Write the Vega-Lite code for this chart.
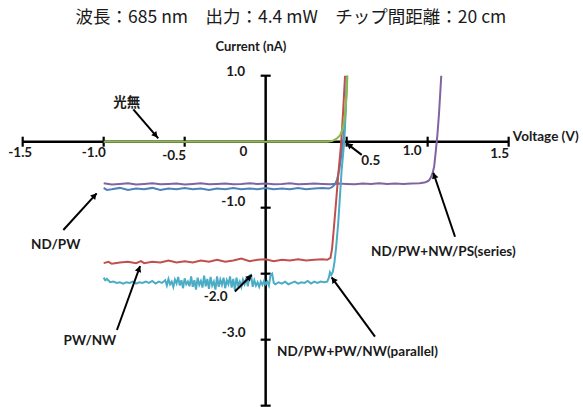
{
  "$schema": "https://vega.github.io/schema/vega-lite/v6.json",
  "width": 583,
  "height": 407,
  "padding": 0,
  "autosize": {"type": "fit", "contains": "padding"},
  "background": "white",
  "config": {"view": {"stroke": null}},
  "datasets": {
    "axes": [
      {"v": -1.5, "i": 0, "v2": 1.5, "i2": 0},
      {"v": 0, "i": -4.0, "v2": 0, "i2": 1.0}
    ],
    "xticks": [{"v": -1.5, "i": 0}, {"v": -1.0, "i": 0}, {"v": -0.5, "i": 0}, {"v": 0.5, "i": 0}, {"v": 1.0, "i": 0}, {"v": 1.5, "i": 0}],
    "yticks": [{"v": 0, "i": 1.0}, {"v": 0, "i": -1.0}, {"v": 0, "i": -2.0}, {"v": 0, "i": -3.0}, {"v": 0, "i": -4.0}],
    "curves": [
      {"s": "ND/PW+NW/PS(series)", "v": -1.0, "i": -0.63}, {"s": "ND/PW+NW/PS(series)", "v": -0.95, "i": -0.65}, {"s": "ND/PW+NW/PS(series)", "v": -0.9, "i": -0.64}, {"s": "ND/PW+NW/PS(series)", "v": -0.85, "i": -0.63}, {"s": "ND/PW+NW/PS(series)", "v": -0.8, "i": -0.65}, {"s": "ND/PW+NW/PS(series)", "v": -0.75, "i": -0.64}, {"s": "ND/PW+NW/PS(series)", "v": -0.7, "i": -0.63}, {"s": "ND/PW+NW/PS(series)", "v": -0.65, "i": -0.645}, {"s": "ND/PW+NW/PS(series)", "v": -0.6, "i": -0.64}, {"s": "ND/PW+NW/PS(series)", "v": -0.55, "i": -0.635}, {"s": "ND/PW+NW/PS(series)", "v": -0.5, "i": -0.65}, {"s": "ND/PW+NW/PS(series)", "v": -0.45, "i": -0.64}, {"s": "ND/PW+NW/PS(series)", "v": -0.4, "i": -0.63}, {"s": "ND/PW+NW/PS(series)", "v": -0.35, "i": -0.645}, {"s": "ND/PW+NW/PS(series)", "v": -0.3, "i": -0.64}, {"s": "ND/PW+NW/PS(series)", "v": -0.25, "i": -0.635}, {"s": "ND/PW+NW/PS(series)", "v": -0.2, "i": -0.645}, {"s": "ND/PW+NW/PS(series)", "v": -0.15, "i": -0.64}, {"s": "ND/PW+NW/PS(series)", "v": -0.1, "i": -0.63}, {"s": "ND/PW+NW/PS(series)", "v": -0.05, "i": -0.64}, {"s": "ND/PW+NW/PS(series)", "v": 0.0, "i": -0.635}, {"s": "ND/PW+NW/PS(series)", "v": 0.05, "i": -0.645}, {"s": "ND/PW+NW/PS(series)", "v": 0.1, "i": -0.64}, {"s": "ND/PW+NW/PS(series)", "v": 0.15, "i": -0.63}, {"s": "ND/PW+NW/PS(series)", "v": 0.2, "i": -0.645}, {"s": "ND/PW+NW/PS(series)", "v": 0.25, "i": -0.64}, {"s": "ND/PW+NW/PS(series)", "v": 0.3, "i": -0.635}, {"s": "ND/PW+NW/PS(series)", "v": 0.35, "i": -0.64}, {"s": "ND/PW+NW/PS(series)", "v": 0.4, "i": -0.645}, {"s": "ND/PW+NW/PS(series)", "v": 0.45, "i": -0.635}, {"s": "ND/PW+NW/PS(series)", "v": 0.5, "i": -0.64}, {"s": "ND/PW+NW/PS(series)", "v": 0.55, "i": -0.645}, {"s": "ND/PW+NW/PS(series)", "v": 0.6, "i": -0.635}, {"s": "ND/PW+NW/PS(series)", "v": 0.65, "i": -0.64}, {"s": "ND/PW+NW/PS(series)", "v": 0.7, "i": -0.63}, {"s": "ND/PW+NW/PS(series)", "v": 0.75, "i": -0.64}, {"s": "ND/PW+NW/PS(series)", "v": 0.8, "i": -0.635}, {"s": "ND/PW+NW/PS(series)", "v": 0.85, "i": -0.64}, {"s": "ND/PW+NW/PS(series)", "v": 0.9, "i": -0.635}, {"s": "ND/PW+NW/PS(series)", "v": 0.95, "i": -0.63}, {"s": "ND/PW+NW/PS(series)", "v": 0.98, "i": -0.62}, {"s": "ND/PW+NW/PS(series)", "v": 1.0, "i": -0.6}, {"s": "ND/PW+NW/PS(series)", "v": 1.01, "i": -0.58}, {"s": "ND/PW+NW/PS(series)", "v": 1.02, "i": -0.54}, {"s": "ND/PW+NW/PS(series)", "v": 1.03, "i": -0.48}, {"s": "ND/PW+NW/PS(series)", "v": 1.04, "i": -0.38}, {"s": "ND/PW+NW/PS(series)", "v": 1.05, "i": -0.15}, {"s": "ND/PW+NW/PS(series)", "v": 1.06, "i": 0.1}, {"s": "ND/PW+NW/PS(series)", "v": 1.07, "i": 0.42}, {"s": "ND/PW+NW/PS(series)", "v": 1.078, "i": 0.75}, {"s": "ND/PW+NW/PS(series)", "v": 1.084, "i": 1.0},

      {"s": "ND/PW", "v": -1.0, "i": -0.70}, {"s": "ND/PW", "v": -0.98, "i": -0.73}, {"s": "ND/PW", "v": -0.95, "i": -0.72}, {"s": "ND/PW", "v": -0.9, "i": -0.70}, {"s": "ND/PW", "v": -0.85, "i": -0.73}, {"s": "ND/PW", "v": -0.8, "i": -0.71}, {"s": "ND/PW", "v": -0.75, "i": -0.72}, {"s": "ND/PW", "v": -0.7, "i": -0.70}, {"s": "ND/PW", "v": -0.65, "i": -0.73}, {"s": "ND/PW", "v": -0.6, "i": -0.71}, {"s": "ND/PW", "v": -0.55, "i": -0.72}, {"s": "ND/PW", "v": -0.5, "i": -0.70}, {"s": "ND/PW", "v": -0.45, "i": -0.72}, {"s": "ND/PW", "v": -0.4, "i": -0.71}, {"s": "ND/PW", "v": -0.35, "i": -0.73}, {"s": "ND/PW", "v": -0.3, "i": -0.71}, {"s": "ND/PW", "v": -0.25, "i": -0.72}, {"s": "ND/PW", "v": -0.2, "i": -0.70}, {"s": "ND/PW", "v": -0.15, "i": -0.72}, {"s": "ND/PW", "v": -0.1, "i": -0.71}, {"s": "ND/PW", "v": -0.05, "i": -0.72}, {"s": "ND/PW", "v": 0.0, "i": -0.70}, {"s": "ND/PW", "v": 0.05, "i": -0.72}, {"s": "ND/PW", "v": 0.1, "i": -0.71}, {"s": "ND/PW", "v": 0.15, "i": -0.72}, {"s": "ND/PW", "v": 0.2, "i": -0.70}, {"s": "ND/PW", "v": 0.25, "i": -0.72}, {"s": "ND/PW", "v": 0.3, "i": -0.71}, {"s": "ND/PW", "v": 0.35, "i": -0.70}, {"s": "ND/PW", "v": 0.39, "i": -0.71}, {"s": "ND/PW", "v": 0.41, "i": -0.69}, {"s": "ND/PW", "v": 0.43, "i": -0.64}, {"s": "ND/PW", "v": 0.44, "i": -0.58}, {"s": "ND/PW", "v": 0.455, "i": -0.42}, {"s": "ND/PW", "v": 0.465, "i": -0.25}, {"s": "ND/PW", "v": 0.475, "i": -0.05}, {"s": "ND/PW", "v": 0.482, "i": 0.08}, {"s": "ND/PW", "v": 0.49, "i": 0.35}, {"s": "ND/PW", "v": 0.497, "i": 0.7}, {"s": "ND/PW", "v": 0.502, "i": 1.0},

      {"s": "PW/NW", "v": -1.0, "i": -1.84}, {"s": "PW/NW", "v": -0.97, "i": -1.82}, {"s": "PW/NW", "v": -0.95, "i": -1.85}, {"s": "PW/NW", "v": -0.9, "i": -1.83}, {"s": "PW/NW", "v": -0.85, "i": -1.82}, {"s": "PW/NW", "v": -0.8, "i": -1.84}, {"s": "PW/NW", "v": -0.77, "i": -1.81}, {"s": "PW/NW", "v": -0.75, "i": -1.84}, {"s": "PW/NW", "v": -0.7, "i": -1.82}, {"s": "PW/NW", "v": -0.65, "i": -1.83}, {"s": "PW/NW", "v": -0.6, "i": -1.80}, {"s": "PW/NW", "v": -0.55, "i": -1.83}, {"s": "PW/NW", "v": -0.5, "i": -1.81}, {"s": "PW/NW", "v": -0.45, "i": -1.83}, {"s": "PW/NW", "v": -0.4, "i": -1.80}, {"s": "PW/NW", "v": -0.35, "i": -1.82}, {"s": "PW/NW", "v": -0.3, "i": -1.79}, {"s": "PW/NW", "v": -0.25, "i": -1.82}, {"s": "PW/NW", "v": -0.2, "i": -1.80}, {"s": "PW/NW", "v": -0.15, "i": -1.77}, {"s": "PW/NW", "v": -0.1, "i": -1.81}, {"s": "PW/NW", "v": -0.05, "i": -1.79}, {"s": "PW/NW", "v": 0.0, "i": -1.78}, {"s": "PW/NW", "v": 0.05, "i": -1.81}, {"s": "PW/NW", "v": 0.1, "i": -1.79}, {"s": "PW/NW", "v": 0.15, "i": -1.80}, {"s": "PW/NW", "v": 0.2, "i": -1.78}, {"s": "PW/NW", "v": 0.25, "i": -1.80}, {"s": "PW/NW", "v": 0.3, "i": -1.79}, {"s": "PW/NW", "v": 0.35, "i": -1.78}, {"s": "PW/NW", "v": 0.38, "i": -1.79}, {"s": "PW/NW", "v": 0.40, "i": -1.76}, {"s": "PW/NW", "v": 0.41, "i": -1.62}, {"s": "PW/NW", "v": 0.42, "i": -1.34}, {"s": "PW/NW", "v": 0.434, "i": -0.93}, {"s": "PW/NW", "v": 0.45, "i": -0.45}, {"s": "PW/NW", "v": 0.465, "i": -0.05}, {"s": "PW/NW", "v": 0.478, "i": 0.45}, {"s": "PW/NW", "v": 0.49, "i": 1.0},

      {"s": "ND/PW+PW/NW(parallel)", "v": -1.0, "i": -2.06}, {"s": "ND/PW+PW/NW(parallel)", "v": -0.99, "i": -2.10}, {"s": "ND/PW+PW/NW(parallel)", "v": -0.98, "i": -2.08}, {"s": "ND/PW+PW/NW(parallel)", "v": -0.96, "i": -2.13}, {"s": "ND/PW+PW/NW(parallel)", "v": -0.94, "i": -2.12}, {"s": "ND/PW+PW/NW(parallel)", "v": -0.92, "i": -2.14}, {"s": "ND/PW+PW/NW(parallel)", "v": -0.9, "i": -2.13}, {"s": "ND/PW+PW/NW(parallel)", "v": -0.88, "i": -2.15}, {"s": "ND/PW+PW/NW(parallel)", "v": -0.86, "i": -2.13}, {"s": "ND/PW+PW/NW(parallel)", "v": -0.84, "i": -2.14}, {"s": "ND/PW+PW/NW(parallel)", "v": -0.82, "i": -2.12}, {"s": "ND/PW+PW/NW(parallel)", "v": -0.8, "i": -2.15}, {"s": "ND/PW+PW/NW(parallel)", "v": -0.78, "i": -2.13}, {"s": "ND/PW+PW/NW(parallel)", "v": -0.76, "i": -2.14}, {"s": "ND/PW+PW/NW(parallel)", "v": -0.74, "i": -2.12}, {"s": "ND/PW+PW/NW(parallel)", "v": -0.72, "i": -2.14}, {"s": "ND/PW+PW/NW(parallel)", "v": -0.7, "i": -2.11}, {"s": "ND/PW+PW/NW(parallel)", "v": -0.68, "i": -2.15}, {"s": "ND/PW+PW/NW(parallel)", "v": -0.66, "i": -2.12}, {"s": "ND/PW+PW/NW(parallel)", "v": -0.64, "i": -2.14}, {"s": "ND/PW+PW/NW(parallel)", "v": -0.62, "i": -2.10}, {"s": "ND/PW+PW/NW(parallel)", "v": -0.61, "i": -2.18}, {"s": "ND/PW+PW/NW(parallel)", "v": -0.6, "i": -2.08}, {"s": "ND/PW+PW/NW(parallel)", "v": -0.59, "i": -2.16}, {"s": "ND/PW+PW/NW(parallel)", "v": -0.58, "i": -2.12}, {"s": "ND/PW+PW/NW(parallel)", "v": -0.57, "i": -2.20}, {"s": "ND/PW+PW/NW(parallel)", "v": -0.56, "i": -2.09}, {"s": "ND/PW+PW/NW(parallel)", "v": -0.55, "i": -2.15}, {"s": "ND/PW+PW/NW(parallel)", "v": -0.54, "i": -2.05}, {"s": "ND/PW+PW/NW(parallel)", "v": -0.53, "i": -2.18}, {"s": "ND/PW+PW/NW(parallel)", "v": -0.52, "i": -2.10}, {"s": "ND/PW+PW/NW(parallel)", "v": -0.51, "i": -2.22}, {"s": "ND/PW+PW/NW(parallel)", "v": -0.5, "i": -2.07}, {"s": "ND/PW+PW/NW(parallel)", "v": -0.49, "i": -2.16}, {"s": "ND/PW+PW/NW(parallel)", "v": -0.48, "i": -2.12}, {"s": "ND/PW+PW/NW(parallel)", "v": -0.47, "i": -2.19}, {"s": "ND/PW+PW/NW(parallel)", "v": -0.46, "i": -2.04}, {"s": "ND/PW+PW/NW(parallel)", "v": -0.45, "i": -2.20}, {"s": "ND/PW+PW/NW(parallel)", "v": -0.44, "i": -2.10}, {"s": "ND/PW+PW/NW(parallel)", "v": -0.43, "i": -2.24}, {"s": "ND/PW+PW/NW(parallel)", "v": -0.42, "i": -2.06}, {"s": "ND/PW+PW/NW(parallel)", "v": -0.41, "i": -2.17}, {"s": "ND/PW+PW/NW(parallel)", "v": -0.4, "i": -2.11}, {"s": "ND/PW+PW/NW(parallel)", "v": -0.39, "i": -2.21}, {"s": "ND/PW+PW/NW(parallel)", "v": -0.38, "i": -2.03}, {"s": "ND/PW+PW/NW(parallel)", "v": -0.37, "i": -2.19}, {"s": "ND/PW+PW/NW(parallel)", "v": -0.36, "i": -2.08}, {"s": "ND/PW+PW/NW(parallel)", "v": -0.35, "i": -2.23}, {"s": "ND/PW+PW/NW(parallel)", "v": -0.34, "i": -2.05}, {"s": "ND/PW+PW/NW(parallel)", "v": -0.33, "i": -2.18}, {"s": "ND/PW+PW/NW(parallel)", "v": -0.32, "i": -2.12}, {"s": "ND/PW+PW/NW(parallel)", "v": -0.31, "i": -2.24}, {"s": "ND/PW+PW/NW(parallel)", "v": -0.3, "i": -2.04}, {"s": "ND/PW+PW/NW(parallel)", "v": -0.29, "i": -2.20}, {"s": "ND/PW+PW/NW(parallel)", "v": -0.28, "i": -2.09}, {"s": "ND/PW+PW/NW(parallel)", "v": -0.27, "i": -2.17}, {"s": "ND/PW+PW/NW(parallel)", "v": -0.26, "i": -2.06}, {"s": "ND/PW+PW/NW(parallel)", "v": -0.25, "i": -2.22}, {"s": "ND/PW+PW/NW(parallel)", "v": -0.24, "i": -2.10}, {"s": "ND/PW+PW/NW(parallel)", "v": -0.23, "i": -2.16}, {"s": "ND/PW+PW/NW(parallel)", "v": -0.22, "i": -2.04}, {"s": "ND/PW+PW/NW(parallel)", "v": -0.21, "i": -2.21}, {"s": "ND/PW+PW/NW(parallel)", "v": -0.2, "i": -2.08}, {"s": "ND/PW+PW/NW(parallel)", "v": -0.19, "i": -2.25}, {"s": "ND/PW+PW/NW(parallel)", "v": -0.18, "i": -2.06}, {"s": "ND/PW+PW/NW(parallel)", "v": -0.17, "i": -2.18}, {"s": "ND/PW+PW/NW(parallel)", "v": -0.16, "i": -2.12}, {"s": "ND/PW+PW/NW(parallel)", "v": -0.15, "i": -2.20}, {"s": "ND/PW+PW/NW(parallel)", "v": -0.14, "i": -2.09}, {"s": "ND/PW+PW/NW(parallel)", "v": -0.13, "i": -2.16}, {"s": "ND/PW+PW/NW(parallel)", "v": -0.12, "i": -2.07}, {"s": "ND/PW+PW/NW(parallel)", "v": -0.11, "i": -2.19}, {"s": "ND/PW+PW/NW(parallel)", "v": -0.1, "i": -2.03}, {"s": "ND/PW+PW/NW(parallel)", "v": -0.09, "i": -2.02}, {"s": "ND/PW+PW/NW(parallel)", "v": -0.08, "i": -2.20}, {"s": "ND/PW+PW/NW(parallel)", "v": -0.07, "i": -2.10}, {"s": "ND/PW+PW/NW(parallel)", "v": -0.06, "i": -2.18}, {"s": "ND/PW+PW/NW(parallel)", "v": -0.05, "i": -2.13}, {"s": "ND/PW+PW/NW(parallel)", "v": -0.04, "i": -2.20}, {"s": "ND/PW+PW/NW(parallel)", "v": -0.03, "i": -2.12}, {"s": "ND/PW+PW/NW(parallel)", "v": -0.02, "i": -2.17}, {"s": "ND/PW+PW/NW(parallel)", "v": -0.01, "i": -2.11}, {"s": "ND/PW+PW/NW(parallel)", "v": 0.0, "i": -2.16}, {"s": "ND/PW+PW/NW(parallel)", "v": 0.01, "i": -2.12}, {"s": "ND/PW+PW/NW(parallel)", "v": 0.02, "i": -2.18}, {"s": "ND/PW+PW/NW(parallel)", "v": 0.03, "i": -2.02}, {"s": "ND/PW+PW/NW(parallel)", "v": 0.04, "i": -2.00}, {"s": "ND/PW+PW/NW(parallel)", "v": 0.05, "i": -2.14}, {"s": "ND/PW+PW/NW(parallel)", "v": 0.06, "i": -2.16}, {"s": "ND/PW+PW/NW(parallel)", "v": 0.08, "i": -2.13}, {"s": "ND/PW+PW/NW(parallel)", "v": 0.1, "i": -2.15}, {"s": "ND/PW+PW/NW(parallel)", "v": 0.12, "i": -2.12}, {"s": "ND/PW+PW/NW(parallel)", "v": 0.14, "i": -2.16}, {"s": "ND/PW+PW/NW(parallel)", "v": 0.16, "i": -2.14}, {"s": "ND/PW+PW/NW(parallel)", "v": 0.18, "i": -2.12}, {"s": "ND/PW+PW/NW(parallel)", "v": 0.2, "i": -2.15}, {"s": "ND/PW+PW/NW(parallel)", "v": 0.22, "i": -2.13}, {"s": "ND/PW+PW/NW(parallel)", "v": 0.24, "i": -2.14}, {"s": "ND/PW+PW/NW(parallel)", "v": 0.26, "i": -2.11}, {"s": "ND/PW+PW/NW(parallel)", "v": 0.28, "i": -2.15}, {"s": "ND/PW+PW/NW(parallel)", "v": 0.3, "i": -2.12}, {"s": "ND/PW+PW/NW(parallel)", "v": 0.32, "i": -2.14}, {"s": "ND/PW+PW/NW(parallel)", "v": 0.34, "i": -2.12}, {"s": "ND/PW+PW/NW(parallel)", "v": 0.36, "i": -2.13}, {"s": "ND/PW+PW/NW(parallel)", "v": 0.38, "i": -2.12}, {"s": "ND/PW+PW/NW(parallel)", "v": 0.39, "i": -2.06}, {"s": "ND/PW+PW/NW(parallel)", "v": 0.397, "i": -1.98}, {"s": "ND/PW+PW/NW(parallel)", "v": 0.405, "i": -2.02}, {"s": "ND/PW+PW/NW(parallel)", "v": 0.415, "i": -1.97}, {"s": "ND/PW+PW/NW(parallel)", "v": 0.425, "i": -1.82}, {"s": "ND/PW+PW/NW(parallel)", "v": 0.435, "i": -1.6}, {"s": "ND/PW+PW/NW(parallel)", "v": 0.448, "i": -1.23}, {"s": "ND/PW+PW/NW(parallel)", "v": 0.458, "i": -0.85}, {"s": "ND/PW+PW/NW(parallel)", "v": 0.469, "i": -0.43}, {"s": "ND/PW+PW/NW(parallel)", "v": 0.485, "i": 0.0}, {"s": "ND/PW+PW/NW(parallel)", "v": 0.495, "i": 0.5}, {"s": "ND/PW+PW/NW(parallel)", "v": 0.502, "i": 1.0},

      {"s": "光無", "v": -1.0, "i": 0.0}, {"s": "光無", "v": 0.0, "i": 0.0}, {"s": "光無", "v": 0.38, "i": 0.0}, {"s": "光無", "v": 0.41, "i": 0.01}, {"s": "光無", "v": 0.44, "i": 0.05}, {"s": "光無", "v": 0.46, "i": 0.1}, {"s": "光無", "v": 0.47, "i": 0.16}, {"s": "光無", "v": 0.48, "i": 0.26}, {"s": "光無", "v": 0.49, "i": 0.4}, {"s": "光無", "v": 0.495, "i": 0.55}, {"s": "光無", "v": 0.5, "i": 0.75}, {"s": "光無", "v": 0.505, "i": 1.0}
    ],
    "arrows": [
      {"v": -0.817, "i": 0.491, "v2": -0.663, "i2": 0.05, "hv": -0.679, "hi": 0.097, "a": 139},
      {"v": 0.593, "i": -0.2, "v2": 0.5, "i2": -0.025, "hv": 0.515, "hi": -0.052, "a": 308},
      {"v": 1.169, "i": -1.44, "v2": 1.035, "i2": -0.47, "hv": 1.041, "hi": -0.512, "a": 341},
      {"v": -1.249, "i": -1.338, "v2": -1.043, "i2": -0.782, "hv": -1.056, "hi": -0.815, "a": 42},
      {"v": -0.918, "i": -2.853, "v2": -0.775, "i2": -1.883, "hv": -0.782, "hi": -1.926, "a": 20},
      {"v": -0.19, "i": -2.27, "v2": -0.086, "i2": -2.02, "hv": -0.099, "hi": -2.052, "a": 45},
      {"v": 0.675, "i": -2.955, "v2": 0.407, "i2": -2.055, "hv": 0.418, "hi": -2.091, "a": 324}
    ],
    "labels": [
      {"t": "1.0", "v": -0.185, "i": 1.052},
      {"t": "-1.5", "v": -1.515, "i": -0.167},
      {"t": "-1.0", "v": -1.061, "i": -0.167},
      {"t": "-0.5", "v": -0.565, "i": -0.217},
      {"t": "0", "v": -0.138, "i": -0.152},
      {"t": "0.5", "v": 0.649, "i": -0.292},
      {"t": "1.0", "v": 0.904, "i": -0.136},
      {"t": "1.5", "v": 1.444, "i": -0.186},
      {"t": "Voltage (V)", "v": 1.729, "i": 0.076},
      {"t": "-1.0", "v": -0.2, "i": -0.918},
      {"t": "-2.0", "v": -0.309, "i": -2.357},
      {"t": "-3.0", "v": -0.197, "i": -2.903},
      {"t": "光無", "v": -0.858, "i": 0.586},
      {"t": "ND/PW", "v": -1.296, "i": -1.565},
      {"t": "PW/NW", "v": -1.085, "i": -3.02},
      {"t": "ND/PW+NW/PS(series)", "v": 1.097, "i": -1.667},
      {"t": "ND/PW+PW/NW(parallel)", "v": 0.567, "i": -3.18}
    ],
    "axislabels": [
      {"t": "Current (nA)", "v": -0.091, "i": 1.44}
    ],
    "titles": [
      {"t": "波長：685 nm　出力：4.4 mW　チップ間距離：20 cm", "v": 0.156, "i": 1.87}
    ]
  },
  "layer": [
    {
      "data": {"name": "axes"},
      "mark": {"type": "rule", "color": "black", "strokeWidth": 2.5},
      "encoding": {
        "x": {"field": "v", "type": "quantitative", "scale": {"domain": [-1.64, 1.959], "nice": false, "zero": false}, "axis": null},
        "y": {"field": "i", "type": "quantitative", "scale": {"domain": [-4.02, 2.147], "nice": false, "zero": false}, "axis": null},
        "x2": {"field": "v2"},
        "y2": {"field": "i2"}
      }
    },
    {
      "data": {"name": "xticks"},
      "mark": {"type": "tick", "orient": "vertical", "color": "black", "size": 10, "thickness": 2.2, "opacity": 1},
      "encoding": {
        "x": {"field": "v", "type": "quantitative"},
        "y": {"field": "i", "type": "quantitative"}
      }
    },
    {
      "data": {"name": "yticks"},
      "mark": {"type": "tick", "orient": "horizontal", "color": "black", "size": 10, "thickness": 2.2, "opacity": 1},
      "encoding": {
        "x": {"field": "v", "type": "quantitative"},
        "y": {"field": "i", "type": "quantitative"}
      }
    },
    {
      "data": {"name": "curves"},
      "mark": {"type": "line", "strokeWidth": 2, "interpolate": "linear"},
      "encoding": {
        "x": {"field": "v", "type": "quantitative"},
        "y": {"field": "i", "type": "quantitative"},
        "color": {
          "field": "s", "type": "nominal", "legend": null,
          "scale": {
            "domain": ["ND/PW+NW/PS(series)", "ND/PW", "PW/NW", "ND/PW+PW/NW(parallel)", "光無"],
            "range": ["#8064A2", "#4F81BD", "#C0504D", "#4BACC6", "#8DBB4A"]
          }
        }
      }
    },
    {
      "data": {"name": "arrows"},
      "mark": {"type": "rule", "color": "black", "strokeWidth": 2},
      "encoding": {
        "x": {"field": "v", "type": "quantitative"},
        "y": {"field": "i", "type": "quantitative"},
        "x2": {"field": "v2"},
        "y2": {"field": "i2"}
      }
    },
    {
      "data": {"name": "arrows"},
      "mark": {"type": "point", "shape": "triangle-up", "filled": true, "color": "black", "size": 45, "opacity": 1},
      "encoding": {
        "x": {"field": "hv", "type": "quantitative"},
        "y": {"field": "hi", "type": "quantitative"},
        "angle": {"field": "a", "type": "quantitative", "scale": null}
      }
    },
    {
      "data": {"name": "labels"},
      "mark": {"type": "text", "font": "Lato, 'Noto Sans CJK JP'", "fontWeight": "bold", "fontSize": 13.5, "color": "#1a1a1a", "align": "center", "baseline": "middle"},
      "encoding": {
        "x": {"field": "v", "type": "quantitative"},
        "y": {"field": "i", "type": "quantitative"},
        "text": {"field": "t"}
      }
    },
    {
      "data": {"name": "axislabels"},
      "mark": {"type": "text", "font": "Lato", "fontWeight": "bold", "fontSize": 13, "color": "#1a1a1a", "align": "center", "baseline": "middle"},
      "encoding": {
        "x": {"field": "v", "type": "quantitative"},
        "y": {"field": "i", "type": "quantitative"},
        "text": {"field": "t"}
      }
    },
    {
      "data": {"name": "titles"},
      "mark": {"type": "text", "font": "'Noto Sans CJK JP'", "fontSize": 17.5, "color": "#1a1a1a", "align": "center", "baseline": "middle"},
      "encoding": {
        "x": {"field": "v", "type": "quantitative"},
        "y": {"field": "i", "type": "quantitative"},
        "text": {"field": "t"}
      }
    }
  ]
}
